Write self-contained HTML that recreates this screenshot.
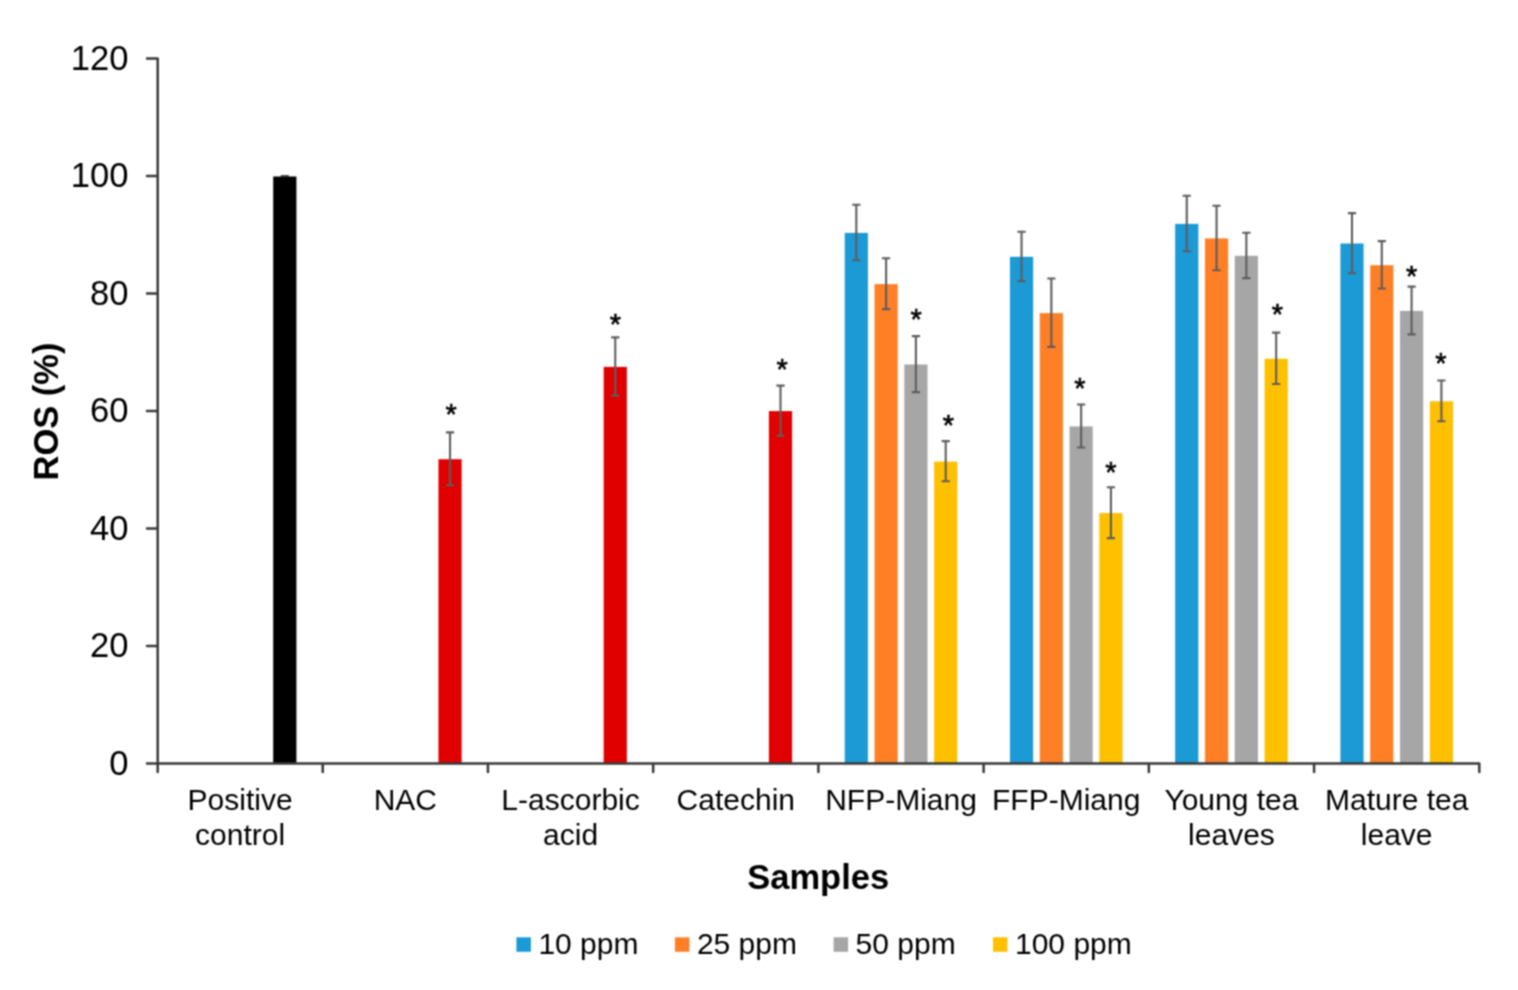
<!DOCTYPE html>
<html><head><meta charset="utf-8"><title>ROS (%) chart</title>
<style>
html,body{margin:0;padding:0;background:#fff;}
body{width:1518px;height:990px;overflow:hidden;}
svg{display:block;}
text{font-family:"Liberation Sans",Arial,sans-serif;fill:#000;}
.tl{font-size:34.6px;}
.cl{font-size:30px;}
.lg{font-size:30px;}
.at{font-size:34.5px;font-weight:bold;}
.st{font-size:29px;stroke:#000;stroke-width:0.6px;}
</style></head>
<body>
<svg width="1518" height="990" viewBox="0 0 1518 990">
<defs><filter id="soft" color-interpolation-filters="sRGB" filterUnits="userSpaceOnUse" x="0" y="0" width="1518" height="990"><feConvolveMatrix order="3" kernelMatrix="1 2 1 2 4 2 1 2 1" divisor="16" edgeMode="duplicate"/></filter></defs>
<g filter="url(#soft)">
<rect width="1518" height="990" fill="#fff"/>
<rect x="273.21" y="176.50" width="23.20" height="587.00" fill="#000000"/>
<rect x="438.44" y="459.20" width="23.20" height="304.30" fill="#e00000"/>
<rect x="603.66" y="366.90" width="23.20" height="396.60" fill="#e00000"/>
<rect x="768.89" y="411.10" width="23.20" height="352.40" fill="#e00000"/>
<rect x="844.71" y="232.90" width="23.20" height="530.60" fill="#1b9ad6"/>
<rect x="874.51" y="284.10" width="23.20" height="479.40" fill="#ff7f27"/>
<rect x="904.31" y="364.50" width="23.20" height="399.00" fill="#a6a6a6"/>
<rect x="934.11" y="461.60" width="23.20" height="301.90" fill="#ffc000"/>
<rect x="1009.94" y="256.80" width="23.20" height="506.70" fill="#1b9ad6"/>
<rect x="1039.74" y="313.10" width="23.20" height="450.40" fill="#ff7f27"/>
<rect x="1069.54" y="426.40" width="23.20" height="337.10" fill="#a6a6a6"/>
<rect x="1099.34" y="513.10" width="23.20" height="250.40" fill="#ffc000"/>
<rect x="1175.16" y="223.90" width="23.20" height="539.60" fill="#1b9ad6"/>
<rect x="1204.96" y="238.40" width="23.20" height="525.10" fill="#ff7f27"/>
<rect x="1234.76" y="255.80" width="23.20" height="507.70" fill="#a6a6a6"/>
<rect x="1264.56" y="358.70" width="23.20" height="404.80" fill="#ffc000"/>
<rect x="1340.39" y="243.50" width="23.20" height="520.00" fill="#1b9ad6"/>
<rect x="1370.19" y="265.20" width="23.20" height="498.30" fill="#ff7f27"/>
<rect x="1399.99" y="310.90" width="23.20" height="452.60" fill="#a6a6a6"/>
<rect x="1429.79" y="401.30" width="23.20" height="362.20" fill="#ffc000"/>
<line x1="280.81" y1="175.9" x2="288.81" y2="175.9" stroke="#1a1a1a" stroke-width="1.4"/>
<path d="M450.04 432.40V485.20M445.94 432.40H454.14M445.94 485.20H454.14" stroke="#5e5e5e" stroke-width="2.1" fill="none" stroke-linecap="butt"/>
<path d="M615.26 337.40V395.60M611.16 337.40H619.36M611.16 395.60H619.36" stroke="#5e5e5e" stroke-width="2.1" fill="none" stroke-linecap="butt"/>
<path d="M780.49 385.60V435.80M776.39 385.60H784.59M776.39 435.80H784.59" stroke="#5e5e5e" stroke-width="2.1" fill="none" stroke-linecap="butt"/>
<path d="M856.31 204.70V260.30M852.21 204.70H860.41M852.21 260.30H860.41" stroke="#5e5e5e" stroke-width="2.1" fill="none" stroke-linecap="butt"/>
<path d="M886.11 258.30V309.10M882.01 258.30H890.21M882.01 309.10H890.21" stroke="#5e5e5e" stroke-width="2.1" fill="none" stroke-linecap="butt"/>
<path d="M915.91 336.10V392.10M911.81 336.10H920.01M911.81 392.10H920.01" stroke="#5e5e5e" stroke-width="2.1" fill="none" stroke-linecap="butt"/>
<path d="M945.71 441.10V481.30M941.61 441.10H949.81M941.61 481.30H949.81" stroke="#5e5e5e" stroke-width="2.1" fill="none" stroke-linecap="butt"/>
<path d="M1021.54 231.70V281.10M1017.44 231.70H1025.64M1017.44 281.10H1025.64" stroke="#5e5e5e" stroke-width="2.1" fill="none" stroke-linecap="butt"/>
<path d="M1051.34 278.50V346.90M1047.24 278.50H1055.44M1047.24 346.90H1055.44" stroke="#5e5e5e" stroke-width="2.1" fill="none" stroke-linecap="butt"/>
<path d="M1081.14 404.50V447.50M1077.04 404.50H1085.24M1077.04 447.50H1085.24" stroke="#5e5e5e" stroke-width="2.1" fill="none" stroke-linecap="butt"/>
<path d="M1110.94 487.30V538.10M1106.84 487.30H1115.04M1106.84 538.10H1115.04" stroke="#5e5e5e" stroke-width="2.1" fill="none" stroke-linecap="butt"/>
<path d="M1186.76 195.70V251.30M1182.66 195.70H1190.86M1182.66 251.30H1190.86" stroke="#5e5e5e" stroke-width="2.1" fill="none" stroke-linecap="butt"/>
<path d="M1216.56 205.70V270.30M1212.46 205.70H1220.66M1212.46 270.30H1220.66" stroke="#5e5e5e" stroke-width="2.1" fill="none" stroke-linecap="butt"/>
<path d="M1246.36 232.70V278.10M1242.26 232.70H1250.46M1242.26 278.10H1250.46" stroke="#5e5e5e" stroke-width="2.1" fill="none" stroke-linecap="butt"/>
<path d="M1276.16 332.60V384.00M1272.06 332.60H1280.26M1272.06 384.00H1280.26" stroke="#5e5e5e" stroke-width="2.1" fill="none" stroke-linecap="butt"/>
<path d="M1351.99 213.10V273.10M1347.89 213.10H1356.09M1347.89 273.10H1356.09" stroke="#5e5e5e" stroke-width="2.1" fill="none" stroke-linecap="butt"/>
<path d="M1381.79 241.10V288.50M1377.69 241.10H1385.89M1377.69 288.50H1385.89" stroke="#5e5e5e" stroke-width="2.1" fill="none" stroke-linecap="butt"/>
<path d="M1411.59 286.60V334.40M1407.49 286.60H1415.69M1407.49 334.40H1415.69" stroke="#5e5e5e" stroke-width="2.1" fill="none" stroke-linecap="butt"/>
<path d="M1441.39 380.50V421.30M1437.29 380.50H1445.49M1437.29 421.30H1445.49" stroke="#5e5e5e" stroke-width="2.1" fill="none" stroke-linecap="butt"/>
<path d="M157.70 58.40V772.00M157.70 763.50H1479.30M147.00 763.50H157.70M147.00 645.98H157.70M147.00 528.47H157.70M147.00 410.95H157.70M147.00 293.43H157.70M147.00 175.92H157.70M147.00 58.40H157.70M157.70 763.50V772.00M322.73 763.50V772.00M487.95 763.50V772.00M653.17 763.50V772.00M818.40 763.50V772.00M983.62 763.50V772.00M1148.85 763.50V772.00M1314.08 763.50V772.00M1479.30 763.50V772.00" stroke="#3a3a3a" stroke-width="2.5" fill="none" stroke-linecap="round" stroke-linejoin="round"/>
<text transform="translate(128.5 774.60) scale(1 1.032)" text-anchor="end" class="tl">0</text>
<text transform="translate(128.5 657.08) scale(1 1.032)" text-anchor="end" class="tl">20</text>
<text transform="translate(128.5 539.57) scale(1 1.032)" text-anchor="end" class="tl">40</text>
<text transform="translate(128.5 422.05) scale(1 1.032)" text-anchor="end" class="tl">60</text>
<text transform="translate(128.5 304.53) scale(1 1.032)" text-anchor="end" class="tl">80</text>
<text transform="translate(128.5 187.02) scale(1 1.032)" text-anchor="end" class="tl">100</text>
<text transform="translate(128.5 69.50) scale(1 1.032)" text-anchor="end" class="tl">120</text>
<text x="240.11" y="809.80" text-anchor="middle" class="cl">Positive</text>
<text x="240.11" y="844.60" text-anchor="middle" class="cl">control</text>
<text x="405.34" y="809.80" text-anchor="middle" class="cl">NAC</text>
<text x="570.56" y="809.80" text-anchor="middle" class="cl">L-ascorbic</text>
<text x="570.56" y="844.60" text-anchor="middle" class="cl">acid</text>
<text x="735.79" y="809.80" text-anchor="middle" class="cl">Catechin</text>
<text x="901.01" y="809.80" text-anchor="middle" class="cl">NFP-Miang</text>
<text x="1066.24" y="809.80" text-anchor="middle" class="cl">FFP-Miang</text>
<text x="1231.46" y="809.80" text-anchor="middle" class="cl">Young tea</text>
<text x="1231.46" y="844.60" text-anchor="middle" class="cl">leaves</text>
<text x="1396.69" y="809.80" text-anchor="middle" class="cl">Mature tea</text>
<text x="1396.69" y="844.60" text-anchor="middle" class="cl">leave</text>
<text x="451.10" y="423.70" text-anchor="middle" class="st">*</text>
<text x="615.50" y="334.00" text-anchor="middle" class="st">*</text>
<text x="782.20" y="378.70" text-anchor="middle" class="st">*</text>
<text x="916.10" y="329.40" text-anchor="middle" class="st">*</text>
<text x="948.50" y="435.10" text-anchor="middle" class="st">*</text>
<text x="1080.00" y="397.90" text-anchor="middle" class="st">*</text>
<text x="1110.80" y="482.10" text-anchor="middle" class="st">*</text>
<text x="1277.40" y="323.50" text-anchor="middle" class="st">*</text>
<text x="1411.60" y="286.30" text-anchor="middle" class="st">*</text>
<text x="1441.00" y="373.20" text-anchor="middle" class="st">*</text>
<text x="818.2" y="888.9" text-anchor="middle" class="at">Samples</text>
<text transform="translate(58.3 411.5) rotate(-90)" x="0" y="0" text-anchor="middle" class="at">ROS (%)</text>
<rect x="516.40" y="937.3" width="14.5" height="14.5" fill="#1b9ad6"/>
<text x="538.40" y="953.9" class="lg">10 ppm</text>
<rect x="674.90" y="937.3" width="14.5" height="14.5" fill="#ff7f27"/>
<text x="696.90" y="953.9" class="lg">25 ppm</text>
<rect x="833.60" y="937.3" width="14.5" height="14.5" fill="#a6a6a6"/>
<text x="855.60" y="953.9" class="lg">50 ppm</text>
<rect x="993.00" y="937.3" width="14.5" height="14.5" fill="#ffc000"/>
<text x="1015.00" y="953.9" class="lg">100 ppm</text>
</g>
</svg>
</body></html>
